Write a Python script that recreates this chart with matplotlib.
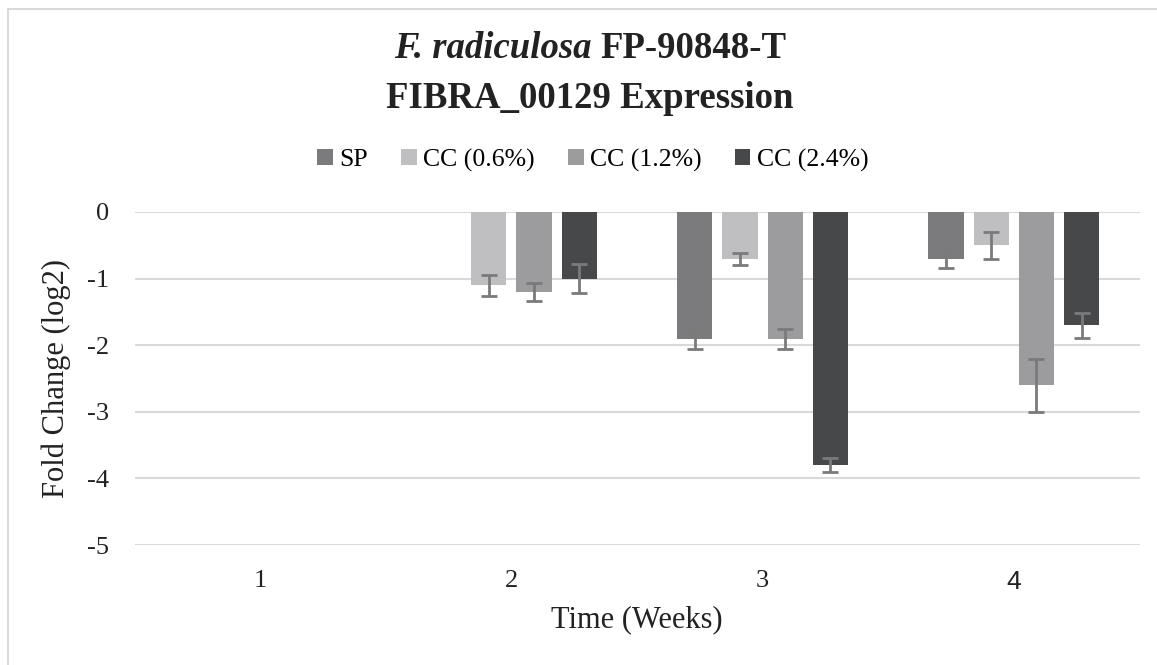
import numpy as np
import matplotlib.pyplot as plt
from matplotlib.patches import Rectangle

# ------------------------------------------------------------------
weeks = ["1", "2", "3", "4"]
series = ["SP", "CC (0.6%)", "CC (1.2%)", "CC (2.4%)"]
colors = ["#7b7b7d", "#bfbfc1", "#9c9c9e", "#47484a"]

sp_vals = [np.nan, np.nan, -1.9, -0.7]
sp_err = [np.nan, np.nan, 0.15, 0.14]
cc06_vals = [np.nan, -1.1, -0.7, -0.5]
cc06_err = [np.nan, 0.16, 0.09, 0.2]
cc12_vals = [np.nan, -1.2, -1.9, -2.6]
cc12_err = [np.nan, 0.13, 0.15, 0.4]
cc24_vals = [np.nan, -1.0, -3.8, -1.7]
cc24_err = [np.nan, 0.22, 0.11, 0.19]

yticks = [0, -1, -2, -3, -4, -5]
# ------------------------------------------------------------------

SERIF = "Liberation Serif"
GRID = "#d9d9d9"
TXT = "#222222"

plt.rcParams["font.family"] = SERIF

fig = plt.figure(figsize=(11.57, 6.65), dpi=100)
W, H = 1157, 665
ax = fig.add_axes([134.5 / W, 120 / H, 1005 / W, 333 / H])

x = np.arange(len(weeks))
step = 0.18
width = 0.14
values = [sp_vals, cc06_vals, cc12_vals, cc24_vals]
errs = [sp_err, cc06_err, cc12_err, cc24_err]

handles = []
for i, (vals, err, col, lab) in enumerate(zip(values, errs, colors, series)):
    pos = x + (i - 1.5) * step
    b = ax.bar(pos, vals, width, color=col, label=lab, zorder=3)
    handles.append(b)
    ax.errorbar(pos, vals, yerr=err, fmt="none", ecolor="#7a7a7a",
                elinewidth=2, capsize=6, capthick=2, zorder=4)

ax.set_xlim(-0.5, len(weeks) - 0.5)
ax.set_ylim(-5, 0)
ax.set_yticks(yticks)
ax.set_yticklabels([str(t) for t in yticks])
ax.set_xticks(x)
ax.set_xticklabels(weeks)
ax.grid(axis="y", color=GRID, linewidth=1.5, zorder=0)
ax.tick_params(axis="both", length=0, labelsize=19, colors=TXT)
ax.tick_params(axis="x", pad=18)
ax.tick_params(axis="y", pad=18)
ax.get_xticklabels()[3].set_family("Liberation Sans")
for s in ax.spines.values():
    s.set_visible(False)

ax.set_ylabel("Fold Change (log2)", fontsize=22, color=TXT, labelpad=12)
ax.set_xlabel("Time (Weeks)", fontsize=22, color=TXT, labelpad=8)

# title: italic species name followed by bold strain
fig.canvas.draw()
r = fig.canvas.get_renderer()
t1 = fig.text(0, 0, "F. radiculosa ", fontsize=26.5, fontweight="bold",
              fontstyle="italic", color=TXT)
t2 = fig.text(0, 0, "FP-90848-T", fontsize=26.5, fontweight="bold", color=TXT)
w1 = t1.get_window_extent(r).width
w2 = t2.get_window_extent(r).width
cx = 590
y1 = 1 - 49 / H
x0 = cx - (w1 + w2) / 2
t1.set_position((x0 / W, y1))
t1.set_va("center")
t2.set_position(((x0 + w1) / W, y1))
t2.set_va("center")
fig.text(cx / W, 1 - 98 / H, "FIBRA_00129 Expression", fontsize=26.5,
         fontweight="bold", ha="center", va="center", color=TXT)

fig.legend(handles=handles, labels=series, loc="center", ncol=4,
           bbox_to_anchor=(593 / W, 1 - 160 / H), frameon=False,
           fontsize=18.5, handlelength=0.6, handleheight=0.6,
           handletextpad=0.25, columnspacing=1.3)

fig.patches.append(Rectangle((8 / W, -0.1), 1.2, 1 - 9 / H + 0.1,
                             transform=fig.transFigure, fill=False,
                             edgecolor=GRID, linewidth=1.5))

plt.savefig("out.png", dpi=100)
